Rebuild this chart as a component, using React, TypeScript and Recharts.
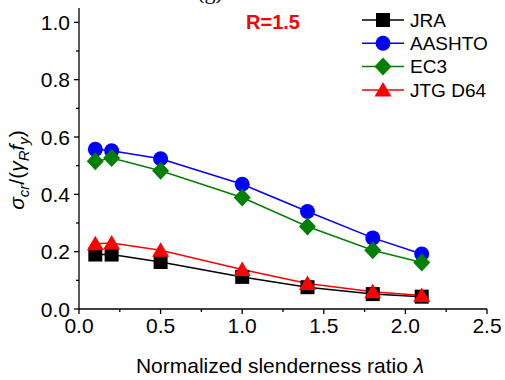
import React from "react";
import { LineChart, Line, XAxis, YAxis, Legend } from "recharts";

const lambda = [0.1, 0.2, 0.5, 1.0, 1.4, 1.8, 2.1];
const jra = [0.19, 0.19, 0.164, 0.112, 0.076, 0.052, 0.043];
const aashto = [0.557, 0.552, 0.524, 0.435, 0.34, 0.248, 0.192];
const ec3 = [0.515, 0.527, 0.482, 0.389, 0.288, 0.205, 0.162];
const jtg = [0.228, 0.23, 0.205, 0.138, 0.089, 0.06, 0.047];

const xTicks = [0, 0.25, 0.5, 0.75, 1, 1.25, 1.5, 1.75, 2, 2.25, 2.5];
const yTicks = [0, 0.1, 0.2, 0.3, 0.4, 0.5, 0.6, 0.7, 0.8, 0.9, 1.0];

const data = lambda.map((l, i) => ({
  l,
  JRA: jra[i],
  AASHTO: aashto[i],
  EC3: ec3[i],
  JTG: jtg[i],
}));

const series = [
  { key: "JRA", name: "JRA", color: "#000000", shape: "square" },
  { key: "AASHTO", name: "AASHTO", color: "#0000FF", shape: "circle" },
  { key: "EC3", name: "EC3", color: "#008000", shape: "diamond" },
  { key: "JTG", name: "JTG D64", color: "#FF0000", shape: "triangle" },
];

const FONT = "'Liberation Sans', Arial, sans-serif";

function Marker({ shape, cx, cy, color }: any) {
  if (shape === "square")
    return <rect x={cx - 7} y={cy - 7} width={14} height={14} fill={color} />;
  if (shape === "circle") return <circle cx={cx} cy={cy} r={7.5} fill={color} />;
  if (shape === "diamond")
    return (
      <polygon
        points={`${cx},${cy - 9} ${cx + 8.5},${cy} ${cx},${cy + 9} ${cx - 8.5},${cy}`}
        fill={color}
      />
    );
  return (
    <polygon
      points={`${cx},${cy - 8} ${cx + 8.5},${cy + 6.5} ${cx - 8.5},${cy + 6.5}`}
      fill={color}
    />
  );
}

const isMajor = (v: number, step: number) =>
  Math.abs(v / step - Math.round(v / step)) < 1e-6;

function XTick({ x, y, payload }: any) {
  const major = isMajor(payload.value, 0.5);
  return (
    <g>
      <line x1={x} y1={y} x2={x} y2={y + (major ? 5 : 3)} stroke="#000" strokeWidth={1.3} />
      {major && (
        <text x={x} y={y + 9} dy="0.71em" textAnchor="middle" fontSize={21} fontFamily={FONT} fill="#000">
          {payload.value.toFixed(1)}
        </text>
      )}
    </g>
  );
}

function YTick({ x, y, payload }: any) {
  const major = isMajor(payload.value, 0.2);
  return (
    <g>
      <line x1={x} y1={y} x2={x - (major ? 5 : 3)} y2={y} stroke="#000" strokeWidth={1.3} />
      {major && (
        <text x={x - 9} y={y} dy="0.36em" textAnchor="end" fontSize={21} fontFamily={FONT} fill="#000">
          {payload.value.toFixed(1)}
        </text>
      )}
    </g>
  );
}

function LegendBox() {
  return (
    <svg width={135} height={100}>
      {series.map((s, i) => {
        const y = 12 + i * 23.3;
        return (
          <g key={s.key}>
            <line x1={2} y1={y} x2={44} y2={y} stroke={s.color} strokeWidth={1.5} />
            <Marker shape={s.shape} cx={23} cy={y} color={s.color} />
            <text x={50} y={y} dy="0.36em" fontSize={19} fontFamily={FONT} fill="#000">
              {s.name}
            </text>
          </g>
        );
      })}
    </svg>
  );
}

export default function App() {
  return (
    <div style={{ position: "absolute", left: 0, top: 0, width: 505, height: 380, background: "#fff" }}>
      <LineChart
        width={505}
        height={380}
        data={data}
        margin={{ top: 8, right: 18, bottom: 0, left: 0 }}
      >
        <XAxis
          dataKey="l"
          type="number"
          domain={[0, 2.5]}
          ticks={xTicks}
          interval={0}
          height={71}
          tickSize={0}
          tickMargin={0}
          tickLine={false}
          axisLine={{ stroke: "#000", strokeWidth: 1.3 }}
          tick={<XTick />}
        />
        <XAxis
          xAxisId="top"
          orientation="top"
          type="number"
          domain={[0, 2.5]}
          height={0}
          tick={false}
          tickLine={false}
          axisLine={{ stroke: "#666", strokeWidth: 1.3 }}
        />
        <YAxis
          type="number"
          domain={[0, 1.05]}
          ticks={yTicks}
          interval={0}
          width={79}
          tickSize={0}
          tickMargin={0}
          tickLine={false}
          axisLine={{ stroke: "#000", strokeWidth: 1.3 }}
          tick={<YTick />}
        />
        <YAxis
          yAxisId="right"
          orientation="right"
          type="number"
          domain={[0, 1.05]}
          width={0}
          tick={false}
          tickLine={false}
          axisLine={{ stroke: "#666", strokeWidth: 1.3 }}
        />
        <Legend
          layout="horizontal"
          verticalAlign="middle"
          align="center"
          content={() => <LegendBox />}
          wrapperStyle={{ position: "absolute", left: 360, top: 8, width: 135, height: 100 }}
        />
        {series.map((s) => (
          <Line
            key={s.key}
            dataKey={s.key}
            name={s.name}
            stroke={s.color}
            strokeWidth={1.5}
            isAnimationActive={false}
            dot={(p: any) => <Marker key={`${s.key}-${p.index}`} shape={s.shape} cx={p.cx} cy={p.cy} color={s.color} />}
          />
        ))}
      </LineChart>
      <svg
        width={505}
        height={380}
        style={{ position: "absolute", left: 0, top: 0, pointerEvents: "none" }}
      >
        {/* panel tag, cut off at the top edge as in the source figure */}
        <text x={210} y={-1} textAnchor="middle" fontSize={22} fontFamily="'Liberation Serif', serif">
          (g)
        </text>
        <text x={273} y={22} dy="0.36em" textAnchor="middle" fontSize={20} fontWeight="bold" fontFamily={FONT} fill="#FF0000">
          R=1.5
        </text>
        <text x={280} y={365} dy="0.36em" textAnchor="middle" fontSize={21} fontFamily={FONT} fill="#000">
          Normalized slenderness ratio <tspan fontStyle="italic">λ</tspan>
        </text>
        <text
          transform="translate(24,170) rotate(-90)"
          textAnchor="middle"
          fontSize={21}
          fontFamily={FONT}
          fill="#000"
        >
          <tspan fontStyle="italic">σ</tspan>
          <tspan fontStyle="italic" fontSize={15} dy={5}>cr</tspan>
          <tspan dy={-5}>/(</tspan>
          <tspan fontStyle="italic">γ</tspan>
          <tspan fontStyle="italic" fontSize={15} dy={5}>R</tspan>
          <tspan fontStyle="italic" dy={-5}>f</tspan>
          <tspan fontStyle="italic" fontSize={15} dy={5}>y</tspan>
          <tspan dy={-5}>)</tspan>
        </text>
      </svg>
    </div>
  );
}
